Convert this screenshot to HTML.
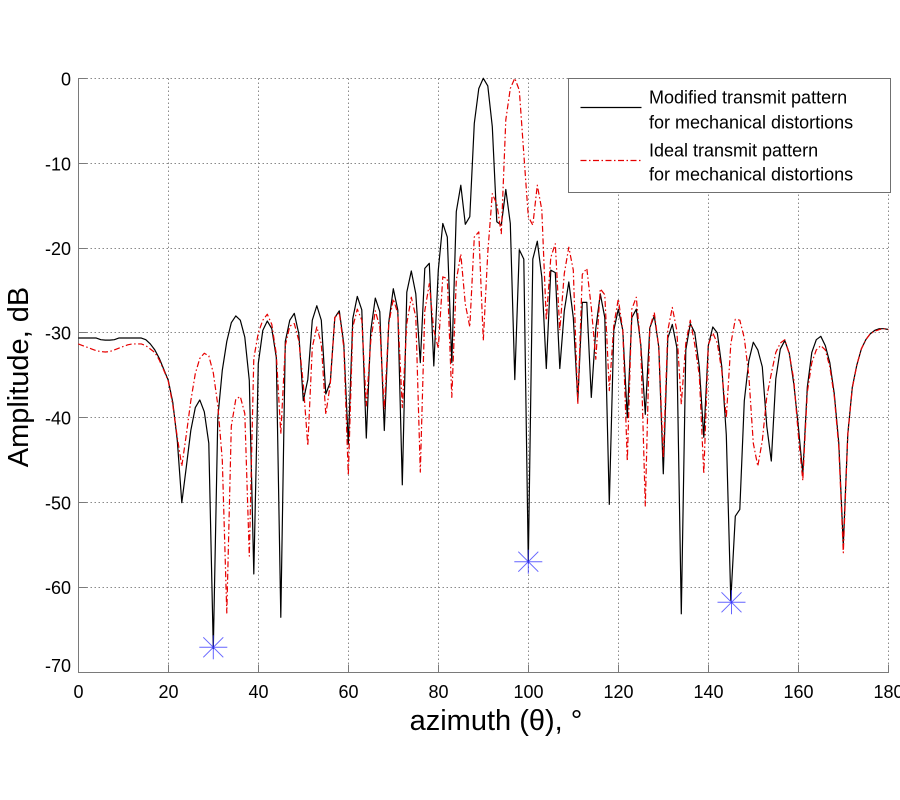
<!DOCTYPE html>
<html>
<head>
<meta charset="utf-8">
<style>
html,body{margin:0;padding:0;background:#fff;}
svg{display:block;}
text{font-family:"Liberation Sans",Arial,sans-serif;fill:#000;}
</style>
</head>
<body>
<svg width="900" height="800" viewBox="0 0 900 800" xmlns="http://www.w3.org/2000/svg">
<rect x="0" y="0" width="900" height="800" fill="#fff"/>
<!-- grid -->
<g stroke="#8a8a8a" stroke-width="1" stroke-dasharray="1.5,2.5" fill="none">
<line x1="168.5" y1="78.5" x2="168.5" y2="672.5"/>
<line x1="258.5" y1="78.5" x2="258.5" y2="672.5"/>
<line x1="348.5" y1="78.5" x2="348.5" y2="672.5"/>
<line x1="438.5" y1="78.5" x2="438.5" y2="672.5"/>
<line x1="528.5" y1="78.5" x2="528.5" y2="672.5"/>
<line x1="618.5" y1="78.5" x2="618.5" y2="672.5"/>
<line x1="708.5" y1="78.5" x2="708.5" y2="672.5"/>
<line x1="798.5" y1="78.5" x2="798.5" y2="672.5"/>
<line x1="888.5" y1="78.5" x2="888.5" y2="672.5"/>
<line x1="78.5" y1="78.5" x2="888.5" y2="78.5"/>
<line x1="78.5" y1="163.5" x2="888.5" y2="163.5"/>
<line x1="78.5" y1="248.5" x2="888.5" y2="248.5"/>
<line x1="78.5" y1="332.5" x2="888.5" y2="332.5"/>
<line x1="78.5" y1="417.5" x2="888.5" y2="417.5"/>
<line x1="78.5" y1="502.5" x2="888.5" y2="502.5"/>
<line x1="78.5" y1="587.5" x2="888.5" y2="587.5"/>
</g>
<!-- axes -->
<g stroke="#7a7a7a" stroke-width="1" fill="none">
<line x1="78.5" y1="78" x2="78.5" y2="673"/>
<line x1="78" y1="672.5" x2="889" y2="672.5"/>
<!-- y ticks -->
<line x1="78.5" y1="78.5" x2="86.5" y2="78.5"/>
<line x1="78.5" y1="163.5" x2="86.5" y2="163.5"/>
<line x1="78.5" y1="248.5" x2="86.5" y2="248.5"/>
<line x1="78.5" y1="332.5" x2="86.5" y2="332.5"/>
<line x1="78.5" y1="417.5" x2="86.5" y2="417.5"/>
<line x1="78.5" y1="502.5" x2="86.5" y2="502.5"/>
<line x1="78.5" y1="587.5" x2="86.5" y2="587.5"/>
<!-- x ticks -->
<line x1="168.5" y1="672.5" x2="168.5" y2="664.5"/>
<line x1="258.5" y1="672.5" x2="258.5" y2="664.5"/>
<line x1="348.5" y1="672.5" x2="348.5" y2="664.5"/>
<line x1="438.5" y1="672.5" x2="438.5" y2="664.5"/>
<line x1="528.5" y1="672.5" x2="528.5" y2="664.5"/>
<line x1="618.5" y1="672.5" x2="618.5" y2="664.5"/>
<line x1="708.5" y1="672.5" x2="708.5" y2="664.5"/>
<line x1="798.5" y1="672.5" x2="798.5" y2="664.5"/>
<line x1="888.5" y1="672.5" x2="888.5" y2="664.5"/>
</g>
<!-- y tick labels -->
<g font-size="18" text-anchor="end">
<text x="71" y="85.5">0</text>
<text x="71" y="170.5">-10</text>
<text x="71" y="255">-20</text>
<text x="71" y="339.5">-30</text>
<text x="71" y="424.5">-40</text>
<text x="71" y="509.5">-50</text>
<text x="71" y="594">-60</text>
<text x="71" y="672">-70</text>
</g>
<!-- x tick labels -->
<g font-size="18" text-anchor="middle">
<text x="78.5" y="698">0</text>
<text x="168.5" y="698">20</text>
<text x="258.5" y="698">40</text>
<text x="348.5" y="698">60</text>
<text x="438.5" y="698">80</text>
<text x="528.5" y="698">100</text>
<text x="618.5" y="698">120</text>
<text x="708.5" y="698">140</text>
<text x="798.5" y="698">160</text>
<text x="888.5" y="698">180</text>
</g>
<!-- axis labels -->
<text x="496" y="730" font-size="29" text-anchor="middle">azimuth (θ), °</text>
<text transform="translate(28,377) rotate(-90)" font-size="29" text-anchor="middle">Amplitude, dB</text>

<!-- data -->
<g transform="translate(78.3,78.3) scale(4.5,8.487)" fill="none">
<polyline vector-effect="non-scaling-stroke" stroke="#000" stroke-width="1.2" stroke-linejoin="round" points="0,30.6 1,30.6 2,30.6 3,30.6 4,30.6 5,30.8 6,30.85 7,30.85 8,30.8 9,30.6 10,30.6 11,30.6 12,30.6 13,30.6 14,30.6 15,30.8 16,31.3 17,32 18,33 19,34.3 20,35.6 21,38.2 22,42.7 23,50 24,45.8 25,41.5 26,38.8 27,37.9 28,39.3 29,43 30,67.2 31,40 32,34.4 33,31 34,28.8 35,28 36,28.5 37,30.5 38,35.6 39,58.4 40,33.6 41,29.7 42,28.6 43,29.5 44,32.9 45,63.5 46,31 47,28.5 48,27.7 49,30.1 50,38 51,35.5 52,28.5 53,26.8 54,28.5 55,37.2 56,35.8 57,28.2 58,27.4 59,31.3 60,43.1 61,28.3 62,25.7 63,27.3 64,42.4 65,29.7 66,25.9 67,27.5 68,41.5 69,28.7 70,24.8 71,27.3 72,47.9 73,25.2 74,22.7 75,25.4 76,33.5 77,22.4 78,21.8 79,33.9 80,22.6 81,17.1 82,18.7 83,33.5 84,15.7 85,12.6 86,17.2 87,16.3 88,5.3 89,1.2 90,0 91,0.9 92,5.7 93,16.9 94,17.3 95,13.1 96,17.1 97,35.5 98,20.2 99,21.3 100,57 101,21.3 102,19.2 103,23.4 104,34.2 105,22.6 106,22.9 107,34.2 108,27.4 109,24 110,28.2 111,38 112,26.4 113,26.4 114,37.6 115,29.5 116,25.4 117,28.2 118,50.2 119,29.7 120,27.2 121,29.7 122,40 123,28.2 124,27.2 125,31.4 126,39.6 127,29.4 128,28 129,31.7 130,46.6 131,30.6 132,29 133,31.7 134,63.1 135,32 136,28.9 137,30 138,34 139,42.3 140,31.5 141,29.3 142,30 143,34 144,42 145,61.5 146,51.6 147,50.8 148,38 149,33.3 150,31.1 151,32 152,34 153,41 154,45.1 155,35.4 156,31.9 157,30.9 158,32.4 159,36 160,41 161,46.6 162,36.4 163,32.3 164,30.8 165,30.4 166,31.5 167,33.5 168,37.2 169,43 170,55 171,41.9 172,36.4 173,33.8 174,31.9 175,30.8 176,30.1 177,29.7 178,29.5 179,29.5 180,29.6"/>
<polyline vector-effect="non-scaling-stroke" stroke="#e60000" stroke-width="1.2" stroke-dasharray="6,2.5,1.5,2.5" stroke-linejoin="round" points="0,31.3 1,31.5 2,31.7 3,31.9 4,32.1 5,32.2 6,32.25 7,32.2 8,32 9,31.8 10,31.6 11,31.4 12,31.3 13,31.3 14,31.3 15,31.5 16,31.9 17,32.3 18,33.2 19,34.4 20,35.7 21,38.5 22,42.3 23,45.7 24,42 25,38 26,34.8 27,33 28,32.4 29,32.7 30,34.7 31,38.5 32,45 33,63 34,41 35,37.8 36,37.5 37,39.5 38,56.3 39,33 40,30 41,28.5 42,27.8 43,29 44,32.5 45,41.9 46,31.5 47,29.2 48,28.9 49,30.9 50,36 51,43.3 52,31.7 53,29.3 54,31.3 55,39.6 56,36 57,28.2 58,27.6 59,31.7 60,46.8 61,29.3 62,27.2 63,28.5 64,38.6 65,30.9 66,27.4 67,29.3 68,39 69,28.9 70,26 71,27.7 72,38.8 73,28.9 74,25.8 75,28.1 76,46.4 77,27.4 78,24.2 79,29.7 80,31.8 81,23.4 82,23.6 83,37.6 84,23.8 85,20.7 86,26.6 87,29.3 88,18.7 89,18.1 90,30.9 91,20.5 92,13.6 93,14.8 94,18.3 95,4.9 96,1.2 97,0 98,1.4 99,8.9 100,16.3 101,17.3 102,12.6 103,15.5 104,28.5 105,21.1 106,19.5 107,29.7 108,23 109,19.9 110,22.6 111,38.4 112,23.1 113,22.4 114,27 115,33.1 116,24.8 117,25.5 118,36.8 119,29.1 120,26 121,29.7 122,45.1 123,27.2 124,25.8 125,31.7 126,50.4 127,29.4 128,27.6 129,31.7 130,44.7 131,29.7 132,27 133,29.7 134,38.4 135,31.2 136,28.5 137,31.4 138,35 139,46.6 140,31.4 141,30 142,31.2 143,34.5 144,40 145,31.3 146,28.4 147,28.5 148,30.6 149,35 150,43 151,45.7 152,42.7 153,37.5 154,34.8 155,32.3 156,31.2 157,30.8 158,32.5 159,35.5 160,42 161,47.4 162,37 163,33.5 164,32 165,31.5 166,32 167,34 168,37.5 169,43.5 170,55.9 171,42 172,36.5 173,33.8 174,31.9 175,30.8 176,30.1 177,29.8 178,29.6 179,29.5 180,29.6"/>
</g>

<!-- star markers -->
<g stroke="#3030ff" stroke-width="1" stroke-opacity="0.75" fill="none">
<g transform="translate(213.3,647.3)">
<line x1="-14" y1="0" x2="14" y2="0"/><line x1="0" y1="-12" x2="0" y2="12"/>
<line x1="-10" y1="-10" x2="10" y2="10"/><line x1="-10" y1="10" x2="10" y2="-10"/>
</g>
<g transform="translate(528.3,561.7)">
<line x1="-14" y1="0" x2="14" y2="0"/><line x1="0" y1="-12" x2="0" y2="12"/>
<line x1="-10" y1="-10" x2="10" y2="10"/><line x1="-10" y1="10" x2="10" y2="-10"/>
</g>
<g transform="translate(731.5,602.3)">
<line x1="-14" y1="0" x2="14" y2="0"/><line x1="0" y1="-12" x2="0" y2="12"/>
<line x1="-10" y1="-10" x2="10" y2="10"/><line x1="-10" y1="10" x2="10" y2="-10"/>
</g>
</g>

<!-- legend -->
<rect x="568.5" y="78.5" width="322" height="114" fill="#fff" stroke="#707070" stroke-width="1"/>
<line x1="580.5" y1="107.5" x2="641.5" y2="107.5" stroke="#000" stroke-width="1.2"/>
<line x1="580.5" y1="160.5" x2="641.5" y2="160.5" stroke="#e60000" stroke-width="1.2" stroke-dasharray="6,2.5,1.5,2.5"/>
<g font-size="18">
<text x="649" y="103.3">Modified transmit pattern</text>
<text x="649" y="128.3">for mechanical distortions</text>
<text x="649" y="156.5">Ideal transmit pattern</text>
<text x="649" y="180.7">for mechanical distortions</text>
</g>
</svg>
</body>
</html>
